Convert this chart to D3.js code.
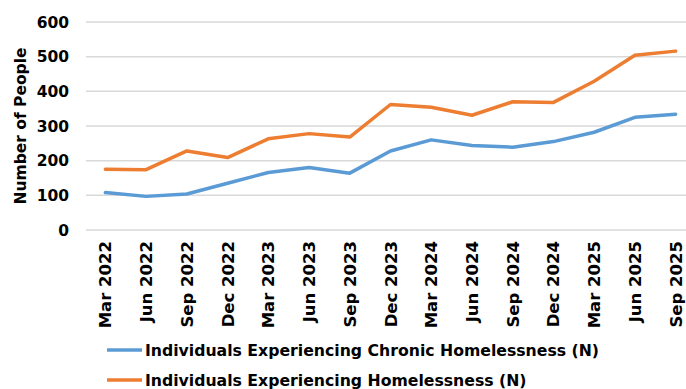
<!DOCTYPE html>
<html>
<head>
<meta charset="utf-8">
<script src="https://cdn.jsdelivr.net/npm/d3@7"></script>
<style>
  html, body { margin: 0; padding: 0; background: #ffffff; }
  svg { display: block; }
  text { font-family: "DejaVu Sans", sans-serif; font-weight: bold; fill: #000; }
</style>
</head>
<body>
<svg id="chart" width="686" height="389"></svg>
<script>
const categories = ["Mar 2022","Jun 2022","Sep 2022","Dec 2022","Mar 2023","Jun 2023","Sep 2023","Dec 2023","Mar 2024","Jun 2024","Sep 2024","Dec 2024","Mar 2025","Jun 2025","Sep 2025"];
const chronicValues = [108, 97, 104, 135, 166, 180, 164, 228, 260, 244, 239, 255, 282, 325, 334];
const totalValues = [175, 174, 228, 209, 263, 278, 268, 362, 354, 331, 370, 368, 429, 504, 516];
const yTicks = [0, 100, 200, 300, 400, 500, 600];
const seriesNames = ["Individuals Experiencing Chronic Homelessness (N)", "Individuals Experiencing Homelessness (N)"];
const seriesColors = ["#5B9BD5", "#ED7D31"];

const svg = d3.select("#chart");
const plotLeft = 85, plotRight = 696, plotTop = 22, plotBottom = 230;

const x = d3.scaleBand().domain(categories).range([plotLeft, plotRight]);
const y = d3.scaleLinear().domain([0, 600]).range([plotBottom, plotTop]);

// gridlines
svg.append("g").selectAll("line").data(yTicks).join("line")
  .attr("x1", plotLeft + 1).attr("x2", 686)
  .attr("y1", d => y(d)).attr("y2", d => y(d))
  .attr("stroke", "#d9d9d9").attr("stroke-width", 1.5);

// y tick labels
svg.append("g").selectAll("text").data(yTicks).join("text")
  .attr("x", 69).attr("y", d => y(d)).attr("dy", "0.36em")
  .attr("text-anchor", "end").attr("font-size", 15.5)
  .text(d => d);

// y title
svg.append("text")
  .attr("transform", `translate(26,126) rotate(-90)`)
  .attr("text-anchor", "middle").attr("font-size", 15.5)
  .text("Number of People");

// x labels
svg.append("g").selectAll("text").data(categories).join("text")
  .attr("transform", d => `translate(${x(d) + x.bandwidth() / 2 + 6},241) rotate(-90)`)
  .attr("text-anchor", "end").attr("font-size", 16.5)
  .text(d => d);

// lines
const line = d3.line()
  .x((d, i) => x(categories[i]) + x.bandwidth() / 2)
  .y(d => y(d));

[chronicValues, totalValues].forEach((vals, k) => {
  svg.append("path").datum(vals)
    .attr("d", line)
    .attr("fill", "none")
    .attr("stroke", seriesColors[k])
    .attr("stroke-width", 3.5)
    .attr("stroke-linejoin", "round")
    .attr("stroke-linecap", "round");
});

// legend
const legendY = [350, 380];
seriesNames.forEach((name, k) => {
  svg.append("line")
    .attr("x1", 107).attr("x2", 142)
    .attr("y1", legendY[k]).attr("y2", legendY[k])
    .attr("stroke", seriesColors[k]).attr("stroke-width", 3.5);
  svg.append("text")
    .attr("x", 145).attr("y", legendY[k]).attr("dy", "0.36em")
    .attr("font-size", 15.7)
    .text(name);
});
</script>
</body>
</html>
